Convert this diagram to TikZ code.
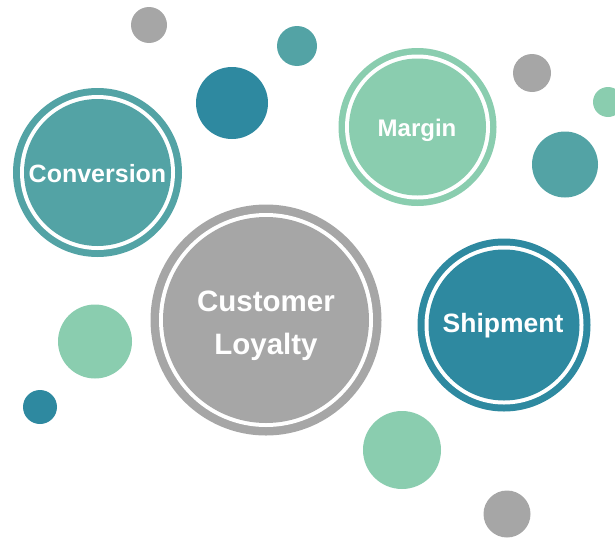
\documentclass[tikz,border=0pt]{standalone}
\usepackage{fontspec}
\setmainfont{Liberation Sans}
\definecolor{cteal}{HTML}{53A3A5}
\definecolor{cmint}{HTML}{8ACDAF}
\definecolor{cdark}{HTML}{2E89A0}
\definecolor{cgray}{HTML}{A6A6A6}
\tikzset{
  dot/.style={circle, inner sep=0pt, outer sep=0pt, draw=none},
  label text/.style={text=white, font=\bfseries, align=center},
}
% #1 name, #2 position, #3 outer radius, #4 ring width, #5 colour
\newcommand{\ringbubble}[5]{%
  \node[dot, fill=#5, minimum size={2*(#3)*1pt}] (#1) at #2 {};
  \node[dot, fill=white, minimum size={2*(#3-#4)*1pt}] (#1-gap) at #2 {};
  \node[dot, fill=#5, minimum size={2*(#3-#4-4)*1pt}] (#1-in) at #2 {};
}
\begin{document}
\begin{tikzpicture}[x=1pt, y=-1pt]
\useasboundingbox (0,0) rectangle (615,538);
\clip (0,0) rectangle (615,538);
% small circles
\node[dot, fill=cgray, minimum size=36pt] (s1) at (149,25) {};
\node[dot, fill=cteal, minimum size=40pt] (s2) at (297,46) {};
\node[dot, fill=cdark, minimum size=72pt] (s3) at (232,103) {};
\node[dot, fill=cgray, minimum size=38pt] (s4) at (532,73) {};
\node[dot, fill=cmint, minimum size=30pt] (s5) at (608,102) {};
\node[dot, fill=cteal, minimum size=66pt] (s6) at (565,164.5) {};
\node[dot, fill=cmint, minimum size=74pt] (s7) at (95,341.5) {};
\node[dot, fill=cdark, minimum size=34pt] (s8) at (40,407) {};
\node[dot, fill=cmint, minimum size=78pt] (s9) at (402,450) {};
\node[dot, fill=cgray, minimum size=47pt] (s10) at (507,514) {};
% big ringed circles
\ringbubble{conv}{(97.5,172.5)}{84.5}{7}{cteal}
\ringbubble{marg}{(417.5,127)}{79}{6.5}{cmint}
\ringbubble{loyal}{(266,320)}{115.5}{8.5}{cgray}
\ringbubble{ship}{(504,325)}{86.5}{7}{cdark}
% labels
\node[label text, font=\bfseries\fontsize{25}{30}\selectfont] (tconv) at (97.5,174) {Conversion};
\node[label text, font=\bfseries\fontsize{24}{29}\selectfont] (tmarg) at (417,130) {Margin};
\node[label text, font=\bfseries\fontsize{29.5}{43}\selectfont] (tloyal) at (266,326) {Customer\\Loyalty};
\node[label text, font=\bfseries\fontsize{26.5}{31}\selectfont] (tship) at (503,326) {Shipment};
\end{tikzpicture}
\end{document}
